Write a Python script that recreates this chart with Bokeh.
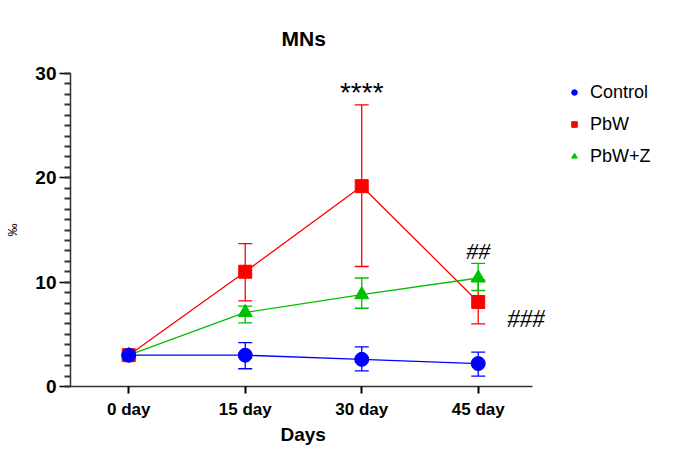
from bokeh.plotting import figure
from bokeh.models import (Range1d, FixedTicker, Whisker, ColumnDataSource, Legend, LegendItem, Label, Title)
from bokeh.embed import file_html
from bokeh.resources import INLINE

days = ["0 day", "15 day", "30 day", "45 day"]
xpos = [0, 1, 2, 3]

control = [3.0, 3.0, 2.6, 2.2]
control_lo = [3.0, 1.7, 1.5, 1.0]
control_hi = [3.0, 4.2, 3.8, 3.3]

pbw = [3.0, 11.0, 19.2, 8.1]
pbw_lo = [3.0, 8.2, 11.5, 6.0]
pbw_hi = [3.0, 13.7, 27.0, 10.2]

pbwz = [3.0, 7.1, 8.8, 10.4]
pbwz_lo = [3.0, 6.1, 7.5, 9.2]
pbwz_hi = [3.0, 7.7, 10.4, 11.8]

y_ticks = [0, 10, 20, 30]
y_minor = list(range(0, 31))

FONT = "Liberation Sans"

p = figure(width=668, height=455, output_backend="svg", toolbar_location=None,
           x_range=Range1d(-0.5, 4.599), y_range=Range1d(0, 30),
           min_border_left=70, min_border_right=4, min_border_top=73, min_border_bottom=69)
p.outline_line_color = None
p.grid.visible = False
p.background_fill_color = "white"

p.title.text = "MNs"
p.title.align = "left"
p.title.text_font = FONT
p.title.text_font_size = "21px"
p.title.text_font_style = "bold"
p.title.text_color = "black"
p.title.offset = 211
p.title.standoff = 47

xa = p.xaxis[0]
xa.bounds = (-0.5, 3.47)
xa.ticker = FixedTicker(ticks=xpos)
xa.major_label_overrides = {i: d for i, d in zip(xpos, days)}
xa.major_label_text_font = FONT
xa.major_label_text_font_size = "17px"
xa.major_label_text_font_style = "bold"
xa.major_label_text_color = "black"
xa.axis_line_width = 1.5
xa.axis_line_color = "#333333"
xa.major_tick_in = 0
xa.major_tick_out = 7
xa.major_tick_line_width = 2
xa.minor_tick_line_color = None
xa.major_label_standoff = 6

xlabel = Title(text="Days", align="left", offset=210, standoff=0,
               text_font=FONT, text_font_size="19px", text_font_style="bold", text_color="black")
p.add_layout(xlabel, "below")

ya = p.yaxis[0]
ya.ticker = FixedTicker(ticks=y_ticks, minor_ticks=y_minor)
ya.major_label_text_font = FONT
ya.major_label_text_font_size = "19px"
ya.major_label_text_font_style = "bold"
ya.major_label_text_color = "black"
ya.axis_label = "‰"
ya.axis_label_text_font = FONT
ya.axis_label_text_font_size = "13px"
ya.axis_label_text_font_style = "normal"
ya.axis_label_text_color = "black"
ya.axis_label_standoff = 12
ya.axis_line_width = 1.5
ya.axis_line_color = "#333333"
ya.major_tick_in = 0
ya.major_tick_out = 11
ya.major_tick_line_width = 1.5
ya.minor_tick_in = 0
ya.minor_tick_out = 6
ya.minor_tick_line_width = 2
ya.minor_tick_line_color = "#333333"
ya.major_label_standoff = 3

series = [
    ("PbW", pbw, pbw_lo, pbw_hi, "#FF0000", "square", 13),
    ("PbW+Z", pbwz, pbwz_lo, pbwz_hi, "#00C000", "triangle", 14),
    ("Control", control, control_lo, control_hi, "#0000FF", "circle", 14),
]
renderers = {}
for name, vals, lo, hi, col, mk, sz in series:
    src = ColumnDataSource(dict(x=xpos, y=vals, lo=lo, hi=hi))
    w = Whisker(source=src, base="x", lower="lo", upper="hi", dimension="height",
                line_color=col, line_width=1.3)
    w.upper_head.size = 14
    w.lower_head.size = 14
    w.upper_head.line_color = col
    w.lower_head.line_color = col
    w.upper_head.line_width = 1.3
    w.lower_head.line_width = 1.3
    p.add_layout(w)
    ln = p.line("x", "y", source=src, line_color=col, line_width=1.3)
    sc = p.scatter("x", "y", source=src, marker=mk, size=sz, fill_color=col, line_color=col)
    renderers[name] = (ln, sc)

legend = Legend(items=[
    LegendItem(label="Control", renderers=[renderers["Control"][1]]),
    LegendItem(label="PbW", renderers=[renderers["PbW"][1]]),
    LegendItem(label="PbW+Z", renderers=[renderers["PbW+Z"][1]]),
], location=(497, 218))
legend.label_text_font = FONT
legend.label_text_font_size = "18px"
legend.label_text_color = "black"
legend.border_line_color = None
legend.background_fill_alpha = 0
legend.glyph_width = 14
legend.glyph_height = 14
legend.label_standoff = 9
legend.spacing = 8
legend.margin = 0
legend.padding = 0
legend.label_height = 24
p.add_layout(legend, "center")

ann = [("****", 2, 28.2, "Liberation Sans", "28px", "normal", "alphabetic"),
       ("##", 3, 13.0, "Liberation Serif", "24px", "italic", "middle"),
       ("###", 3.41, 6.5, "Liberation Serif", "25px", "italic", "middle")]
for t, x, y, f, s, st, bl in ann:
    p.add_layout(Label(x=x, y=y, text=t, text_font=f, text_font_size=s, text_font_style=st,
                       text_align="center", text_baseline=bl, text_color="black"))

open("out.html", "w").write(file_html(p, INLINE))
